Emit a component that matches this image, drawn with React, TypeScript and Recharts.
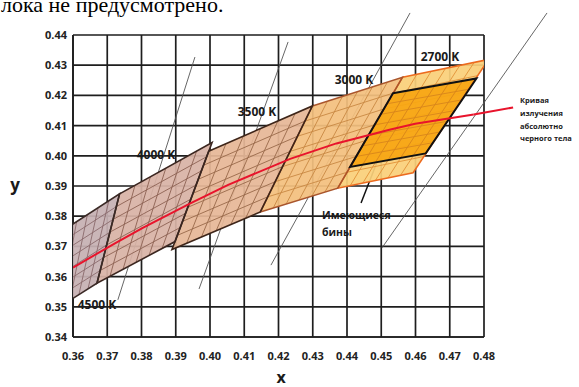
import React from 'react';
import { ScatterChart, Scatter, XAxis, YAxis, CartesianGrid, ReferenceLine } from 'recharts';

// оси
const xTicks = [0.36, 0.37, 0.38, 0.39, 0.4, 0.41, 0.42, 0.43, 0.44, 0.45, 0.46, 0.47, 0.48];
const yTicks = [0.34, 0.35, 0.36, 0.37, 0.38, 0.39, 0.4, 0.41, 0.42, 0.43, 0.44];

// углы бинов ANSI (TL, TR, BR, BL)
const bin4500 = [{ x: 0.3548, y: 0.3736 }, { x: 0.3736, y: 0.3874 }, { x: 0.367, y: 0.3578 }, { x: 0.3512, y: 0.3465 }];
const bin4000 = [{ x: 0.3736, y: 0.3874 }, { x: 0.4006, y: 0.4044 }, { x: 0.3898, y: 0.3716 }, { x: 0.367, y: 0.3578 }];
const bin3500 = [{ x: 0.3996, y: 0.4015 }, { x: 0.4299, y: 0.4165 }, { x: 0.4147, y: 0.3814 }, { x: 0.3889, y: 0.369 }];
const bin3000 = [{ x: 0.4299, y: 0.4165 }, { x: 0.4562, y: 0.426 }, { x: 0.4373, y: 0.3893 }, { x: 0.4147, y: 0.3814 }];
const bin2700 = [{ x: 0.4562, y: 0.426 }, { x: 0.4813, y: 0.4319 }, { x: 0.4593, y: 0.3944 }, { x: 0.4373, y: 0.3893 }];
const availableBins = [{ x: 0.4534, y: 0.4207 }, { x: 0.4778, y: 0.4256 }, { x: 0.463, y: 0.4008 }, { x: 0.4409, y: 0.3963 }];

// кривая излучения абсолютно черного тела
const locus = [
  { x: 0.36, y: 0.363 }, { x: 0.3725, y: 0.3712 }, { x: 0.3805, y: 0.3762 }, { x: 0.3944, y: 0.3843 },
  { x: 0.4053, y: 0.3904 }, { x: 0.4234, y: 0.399 }, { x: 0.4369, y: 0.4041 }, { x: 0.4524, y: 0.4086 },
  { x: 0.4599, y: 0.4106 }, { x: 0.477, y: 0.4137 },
];
const locusTail = [{ x: 0.477, y: 0.4137 }, { x: 0.4885, y: 0.416 }];

// изотермы
const isotherms = [
  [{ x: 0.3956, y: 0.4327 }, { x: 0.3731, y: 0.3523 }],
  [{ x: 0.4228, y: 0.4377 }, { x: 0.3968, y: 0.3559 }],
  [{ x: 0.4584, y: 0.4473 }, { x: 0.4178, y: 0.3638 }],
  [{ x: 0.4984, y: 0.4473 }, { x: 0.4502, y: 0.3695 }],
];
const pointer = [{ x: 0.449, y: 0.3986 }, { x: 0.4441, y: 0.3844 }];

type Pt = { x: number; y: number };
const mix = (a: Pt, b: Pt, t: number) => ({ x: a.x + (b.x - a.x) * t, y: a.y + (b.y - a.y) * t });
const pts = (p: Pt[]) => p.map((q) => `${q.x},${q.y}`).join(' ');

const COLS = 6;
const ROWS = 7;

function fillShape(fill: string, grid: string) {
  return (props: any) => {
    const p: Pt[] = props.points || [];
    if (p.length < 4) return <g />;
    const [tl, tr, br, bl] = p;
    const segs: React.ReactNode[] = [];
    for (let i = 1; i < COLS; i++) {
      const a = mix(tl, tr, i / COLS);
      const b = mix(bl, br, i / COLS);
      segs.push(<line key={'c' + i} x1={a.x} y1={a.y} x2={b.x} y2={b.y} stroke={grid} strokeWidth={0.9} />);
    }
    for (let j = 1; j < ROWS; j++) {
      const a = mix(tl, bl, j / ROWS);
      const b = mix(tr, br, j / ROWS);
      segs.push(<line key={'r' + j} x1={a.x} y1={a.y} x2={b.x} y2={b.y} stroke={grid} strokeWidth={0.9} />);
    }
    return (
      <g>
        <polygon points={pts(p)} fill={fill} fillOpacity={0.93} stroke="none" />
        {segs}
      </g>
    );
  };
}

function outline(stroke: string, w: number) {
  return (props: any) => {
    const p: Pt[] = props.points || [];
    return <polygon points={pts(p)} fill="none" stroke={stroke} strokeWidth={w} strokeLinejoin="miter" />;
  };
}

const noDot = () => <g />;
const tickStyle = { fill: '#222', fontSize: 11, fontWeight: 700, fontFamily: 'Open Sans' };
const lbl = { fontFamily: 'Open Sans', fontWeight: 700, fill: '#1a1a1a' } as const;

export default function App() {
  return (
    <div style={{ position: 'absolute', left: 0, top: 0, width: 579, height: 387, overflow: 'hidden', background: '#fff' }}>
      <ScatterChart width={579} height={387} margin={{ top: 35, right: 95, bottom: 20, left: 13 }}>
        <CartesianGrid stroke="#1e1e1e" strokeWidth={1.7} />
        <XAxis
          type="number"
          dataKey="x"
          domain={[0.36, 0.48]}
          allowDataOverflow
          ticks={xTicks}
          interval={0}
          height={30}
          tickLine={false}
          tickMargin={9}
          axisLine={{ stroke: '#1e1e1e', strokeWidth: 1.7 }}
          tick={tickStyle}
          tickFormatter={(v: number) => v.toFixed(2)}
        />
        <YAxis
          type="number"
          dataKey="y"
          domain={[0.34, 0.44]}
          allowDataOverflow
          ticks={yTicks}
          interval={0}
          width={60}
          tickLine={false}
          tickMargin={0}
          axisLine={{ stroke: '#1e1e1e', strokeWidth: 1.7 }}
          tick={tickStyle}
          tickFormatter={(v: number) => v.toFixed(2)}
        />
        <Scatter data={bin4500} shape={noDot} line={fillShape('#c6b0b3', '#8a6a6c')} isAnimationActive={false} />
        <Scatter data={bin4000} shape={noDot} line={fillShape('#d8b3a6', '#8c6152')} isAnimationActive={false} />
        <Scatter data={bin3500} shape={noDot} line={fillShape('#e6b797', '#98694a')} isAnimationActive={false} />
        <Scatter data={bin3000} shape={noDot} line={fillShape('#f3c07e', '#c88843')} isAnimationActive={false} />
        <Scatter data={bin2700} shape={noDot} line={fillShape('#fad07a', '#e29238')} isAnimationActive={false} />
        <Scatter data={availableBins} shape={noDot} line={fillShape('#f8a612', '#d8861c')} isAnimationActive={false} />
        <Scatter data={bin2700} shape={noDot} line={outline('#ec6a1e', 1.5)} isAnimationActive={false} />
        <Scatter data={bin3000} shape={noDot} line={outline('#a9552c', 1.5)} isAnimationActive={false} />
        <Scatter data={bin3500} shape={noDot} line={outline('#3e2519', 1.6)} isAnimationActive={false} />
        <Scatter data={bin4000} shape={noDot} line={outline('#3b2620', 1.6)} isAnimationActive={false} />
        <Scatter data={bin4500} shape={noDot} line={outline('#3b2a26', 1.6)} isAnimationActive={false} />
        <Scatter data={availableBins} shape={noDot} line={outline('#111', 2)} isAnimationActive={false} />
        {isotherms.map((s, i) => (
          <ReferenceLine key={i} segment={s} ifOverflow="visible" stroke="#555" strokeWidth={0.9} />
        ))}
        <ReferenceLine segment={pointer} ifOverflow="visible" stroke="#111" strokeWidth={1.5} />
        <Scatter data={locus} shape={noDot} line={{ stroke: '#e8142c', strokeWidth: 2 }} isAnimationActive={false} />
        <ReferenceLine segment={locusTail} ifOverflow="visible" stroke="#e8142c" strokeWidth={2} />
      </ScatterChart>
      <svg width={579} height={387} style={{ position: 'absolute', left: 0, top: 0, pointerEvents: 'none' }}>
        <text x={1} y={12} fontFamily="Liberation Serif" fontSize={22} fill="#000">лока не предусмотрено.</text>
        <text x={15} y={191} textAnchor="middle" fontSize={17} {...lbl}>y</text>
        <text x={281} y={383} textAnchor="middle" fontSize={16} {...lbl}>x</text>
        <text x={156} y={159} textAnchor="middle" fontSize={12} {...lbl}>4000 K</text>
        <text x={257} y={116} textAnchor="middle" fontSize={12} {...lbl}>3500 K</text>
        <text x={354} y={84} textAnchor="middle" fontSize={12} {...lbl}>3000 K</text>
        <text x={440} y={61} textAnchor="middle" fontSize={12} {...lbl}>2700 K</text>
        <text x={97} y={309} textAnchor="middle" fontSize={12} {...lbl}>4500 K</text>
        <text x={322} y={219} fontSize={10.5} {...lbl}>Имеющиеся</text>
        <text x={322} y={236} fontSize={10.5} {...lbl}>бины</text>
        <text x={520} y={103} fontSize={7.5} {...lbl}>Кривая</text>
        <text x={520} y={116} fontSize={7.5} {...lbl}>излучения</text>
        <text x={520} y={129} fontSize={7.5} {...lbl}>абсолютно</text>
        <text x={520} y={141} fontSize={7.5} {...lbl}>черного тела</text>
      </svg>
    </div>
  );
}
